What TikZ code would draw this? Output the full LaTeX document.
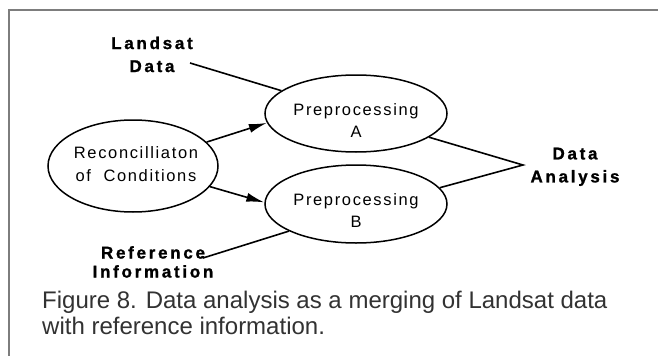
\documentclass[tikz,border=0pt]{standalone}
\usepackage{fontspec}
\setmainfont{Liberation Sans}
\newfontfamily\lblfont[LetterSpace=16,FakeBold=1.2]{Liberation Sans Bold}
\newfontfamily\ellfont[LetterSpace=10]{Liberation Sans}
\usetikzlibrary{shapes.geometric,arrows.meta}
\definecolor{framegray}{RGB}{125,125,125}
\definecolor{captext}{RGB}{50,50,50}
\begin{document}
\begin{tikzpicture}[x=1pt,y=-1pt,
  ell/.style={draw,ellipse,line width=1.5pt,inner sep=0pt},
  etxt/.style={inner sep=0pt,align=center,anchor=north,font=\ellfont\fontsize{16.5}{22.5}\selectfont},
  lbl/.style={inner sep=0pt,align=center,anchor=north,font=\lblfont\fontsize{17}{23}\selectfont},
  conn/.style={line width=1.6pt},
  arr/.style={conn,-{Latex[length=18pt,width=9pt]}}]
\useasboundingbox (0,0) rectangle (658,356);
\fill[white] (0,0) rectangle (658,356);
% frame
\coordinate (ftr) at (658,9.5);
\coordinate (ftl) at (8.5,9.5);
\coordinate (fbl) at (8.5,356);
\draw[framegray,line width=2pt] (ftr) -- (ftl) -- (fbl);
% ellipses
\node[ell,minimum width=170pt,minimum height=92pt] (rec) at (133,166) {};
\node[ell,minimum width=182pt,minimum height=77pt] (prepA) at (356,113.5) {};
\node[ell,minimum width=182pt,minimum height=78pt] (prepB) at (356,204) {};
% ellipse texts
\node[etxt] (rect) at (136,146.5) {Reconcilliaton\\of~ Conditions};
\node[etxt] (prepAt) at (356,103) {Preprocessing\\A};
\node[etxt] (prepBt) at (356,193) {Preprocessing\\B};
% labels
\node[lbl] (landsat) at (152,36.5) {Landsat\\Data};
\node[lbl] (analysis) at (575,147.5) {Data\\Analysis};
\node[lbl,font=\lblfont\fontsize{17}{19}\selectfont] (reference) at (153,246) {Reference\\Information};
% connectors
\coordinate (landsatEnd) at (190,63);
\coordinate (refEnd) at (203,258);
\coordinate (join) at (523,165);
\draw[conn] (landsatEnd) -- (prepA.163);
\draw[conn] (refEnd) -- (prepB.202);
\draw[arr] (rec.18) -- (prepA.186);
\draw[arr] (rec.-15) -- (prepB.179);
\draw[conn] (prepA.-18) -- (join) -- (prepB.11);
% caption
\node[inner sep=0pt,anchor=north west,align=left,text=captext,font=\fontsize{24}{26}\selectfont] (caption) at (42,290.5)
  {Figure 8. Data analysis as a merging of Landsat data\\with reference information.};
\end{tikzpicture}
\end{document}
